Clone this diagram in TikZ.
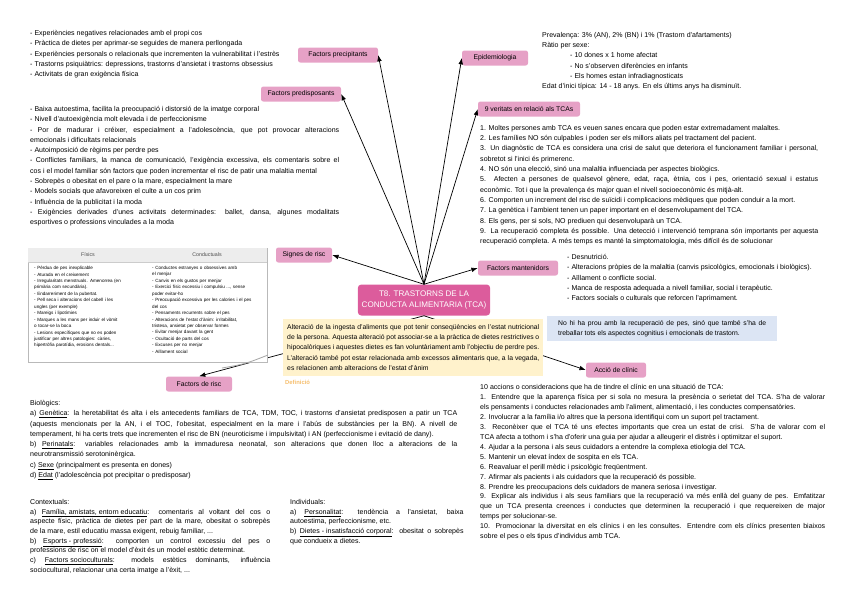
\documentclass[tikz,border=0pt]{standalone}
\usepackage{fontspec}
\setmainfont{Liberation Sans}
\usepackage{xcolor}
\usetikzlibrary{positioning,calc,arrows.meta}

\definecolor{branchpink}{HTML}{E6A1C6}
\definecolor{tcapink}{HTML}{DC5C9C}
\definecolor{defyellow}{HTML}{FFF2CC}
\definecolor{noteblue}{HTML}{DCE5F4}
\definecolor{deforange}{HTML}{F5BE6E}
\definecolor{headgray}{HTML}{EDEDED}

\newcommand{\bodyfont}{\fontsize{6}{8.8}\selectfont}
\newcommand{\boxfont}{\fontsize{5.8}{8.8}\selectfont}
\newcommand{\cellfont}{\fontsize{3.9}{5.5}\selectfont}

\begin{document}
\begin{tikzpicture}[
    x=0.03cm, y=-0.03cm,
    branch/.style={
        rectangle,
        fill=branchpink,
        rounded corners=2pt,
        minimum height=0.45cm,
        inner sep=1pt,
        font=\boxfont
    },
    central/.style={
        rectangle,
        fill=tcapink,
        text=white,
        rounded corners=3pt,
        minimum width=3.84cm,
        minimum height=0.93cm,
        align=center,
        font=\fontsize{6.9}{10}\selectfont
    },
    txt/.style={anchor=north west, inner sep=0pt, align=justify, font=\bodyfont},
    cell/.style={anchor=north west, inner sep=0pt, align=left, font=\cellfont},
    arrow/.style={-{Latex[length=1.9mm,width=1.4mm]}, line width=0.6pt}
]
\useasboundingbox (0,0) rectangle (848,602);

% central topic and branches
\node[central] (tca) at (424,300) {T8. TRASTORNS DE LA\\CONDUCTA ALIMENTARIA (TCA)};

\node[branch, minimum width=2.4cm] (precip) at (338,55) {Factors precipitants};
\node[branch, minimum width=1.98cm] (epid) at (495,58) {Epidemiologia};
\node[branch, minimum width=2.4cm] (predisp) at (301,94) {Factors predisposants};
\node[branch, minimum width=3.06cm] (veritats) at (529,109) {9 veritats en relació als TCAs};
\node[branch, minimum width=1.68cm] (signes) at (304,255) {Signes de risc};
\node[branch, minimum width=2.4cm] (manten) at (518,268) {Factors mantenidors};
\node[branch, minimum width=1.98cm] (risc) at (199,384) {Factors de risc};
\node[branch, minimum width=1.8cm] (clinic) at (616,370) {Acció de clínic};

\draw[arrow] (tca.north) -- (precip.east);
\draw[arrow] (tca.north) -- (epid.west);
\draw[arrow] (tca.north) -- (predisp.east);
\draw[arrow] (tca.north) -- (veritats.west);
\draw[arrow] (tca.north) -- (signes.east);
\draw[arrow] (tca.north) -- (manten.west);
\draw[arrow] (tca.south) -- (risc.north);
\draw[arrow] (tca.south) -- (clinic.west);

% definition
\node[txt, font=\boxfont, fill=defyellow, inner xsep=0.12cm, inner ysep=0.15cm, text width=7.56cm] (def) at (283,319)
  {Alteració de la ingesta d'aliments que pot tenir conseqüències en l'estat nutricional de la persona. Aquesta alteració pot associar-se a la pràctica de dietes restrictives o hipocalòriques i aquestes dietes es fan voluntàriament amb l'objectiu de perdre pes. L'alteració també pot estar relacionada amb excessos alimentaris que, a la vegada, es relacionen amb alteracions de l'estat d'ànim};
\node[anchor=north west, inner sep=0pt, text=deforange, font=\fontsize{5}{6}\selectfont\bfseries] (deflabel) at (285,380) {Definició};

\node[txt, font=\boxfont, fill=noteblue, inner xsep=0.33cm, inner ysep=0.12cm, text width=6.24cm] (note) at (547,316)
  {No hi ha prou amb la recuperació de pes, sinó que també s'ha de treballar tots els aspectes cognitius i emocionals de trastorn.};

% texts of the branches
\node[txt, align=left] (precipText) at (30,30)
  {- Experiències negatives relacionades amb el propi cos\\
   - Pràctica de dietes per aprimar-se seguides de manera perllongada\\
   - Experiències personals o relacionals que incrementen la vulnerabilitat i l'estrès\\
   - Trastorns psiquiàtrics: depressions, trastorns d'ansietat i trastorns obsessius\\
   - Activitats de gran exigència física};

\node[txt, align=left] (epidText) at (542,32)
  {Prevalença: 3\% (AN), 2\% (BN) i 1\% (Trastorn d'afartaments)\\
   Ràtio per sexe:\\
   \hspace*{0.84cm}- 10 dones x 1 home afectat\\
   \hspace*{0.84cm}- No s'observen diferències en infants\\
   \hspace*{0.84cm}- Els homes estan infradiagnosticats\\
   Edat d'inici típica: 14 - 18 anys. En els últims anys ha disminuït.};

\node[txt, text width=9.27cm] (predispText) at (30,106)
  {- Baixa autoestima, facilita la preocupació i distorsió de la imatge corporal\\
   - Nivell d'autoexigència molt elevada i de perfeccionisme\\
   - Por de madurar i créixer, especialment a l'adolescència, que pot provocar alteracions\linebreak emocionals i dificultats relacionals\\
   - Autoimposició de règims per perdre pes\\
   - Conflictes familiars, la manca de comunicació, l'exigència excessiva, els comentaris sobre el\linebreak cos i el model familiar són factors que poden incrementar el risc de patir una malaltia mental\\
   - Sobrepès o obesitat en el pare o la mare, especialment la mare\\
   - Models socials que afavoreixen el culte a un cos prim\\
   - Influència de la publicitat i la moda\\
   - Exigències derivades d'unes activitats determinades: ballet, dansa, algunes modalitats\linebreak esportives o professions vinculades a la moda};

\node[txt, text width=10.14cm] (veritatsText) at (480,125)
  {1. Moltes persones amb TCA es veuen sanes encara que poden estar extremadament malaltes.\\
   2. Les famílies NO són culpables i poden ser els millors aliats pel tractament del pacient.\\
   3. Un diagnòstic de TCA es considera una crisi de salut que deteriora el funcionament familiar i personal,\linebreak sobretot si l'inici és primerenc.\\
   4. NO són una elecció, sinó una malaltia influenciada per aspectes biològics.\\
   5. Afecten a persones de qualsevol gènere, edat, raça, ètnia, cos i pes, orientació sexual i estatus\linebreak econòmic. Tot i que la prevalença és major quan el nivell socioeconòmic és mitjà-alt.\\
   6. Comporten un increment del risc de suïcidi i complicacions mèdiques que poden conduir a la mort.\\
   7. La genètica i l'ambient tenen un paper important en el desenvolupament del TCA.\\
   8. Els gens, per si sols, NO prediuen qui desenvoluparà un TCA.\\
   9. La recuperació completa és possible. Una detecció i intervenció temprana són importants per aquesta\linebreak recuperació completa. A més temps es manté la simptomatologia, més difícil és de solucionar};

\node[txt, align=left] (mantenText) at (567,254)
  {- Desnutrició.\\
   - Alteracions pròpies de la malaltia (canvis psicològics, emocionals i biològics).\\
   - Aïllament o conflicte social.\\
   - Manca de resposta adequada a nivell familiar, social i terapèutic.\\
   - Factors socials o culturals que reforcen l'aprimament.};

% signs of risk table
\draw[gray!55, fill=white] (28,248) rectangle (267,362);
\fill[headgray] (28.4,248.4) rectangle (266.6,262);
\draw[gray!40] (28,262) -- (267,262);
\draw[gray!70, line width=0.7pt] (222,368) .. controls (245,364) .. (268,355);
\node[font=\fontsize{4.5}{5}\selectfont, text=black!70] (fisics) at (88,255) {Físics};
\node[font=\fontsize{4.5}{5}\selectfont, text=black!70] (conductuals) at (207,255) {Conductuals};
\node[cell, text width=3.3cm] (fisicsText) at (34,266)
  {- Pèrdua de pes inexplicable\\
   - Aturada en el creixement\\
   - Irregularitats menstruals. Amenorrea (en\\
   primària com secundària).\\
   - Endarreriment de la pubertat.\\
   - Pell seca i alteracions del cabell i les\\
   ungles (per exemple)\\
   - Mareigs i lipotímies\\
   - Marques a les mans per induir el vòmit\\
   o tocar-se la boca\\
   - Lesions específiques que no es poden\\
   justificar per altres patologies: càries,\\
   hipertròfia parotídia, erosions dentals...};
\node[cell, text width=3.4cm] (conductualsText) at (152,266)
  {- Conductes estranyes o obsessives amb\\
   el menjar\\
   - Canvis en els gustos per menjar\\
   - Exercici físic excessiu i compulsiu ..., sense\\
   poder evitar-ho\\
   - Preocupació excessiva per les calories i el pes\\
   del cos\\
   - Pensaments recurrents sobre el pes\\
   - Alteracions de l'estat d'ànim: irritabilitat,\\
   tristesa, ansietat per observar formes\\
   - Evitar menjar davant la gent\\
   - Ocultació de parts del cos\\
   - Excuses per no menjar\\
   - Aïllament social};

% risk factors
\node[txt, text width=12.81cm] (biolText) at (30,400)
  {Biològics:\\
   a) \underline{Genètica}: la heretabilitat és alta i els antecedents familiars de TCA, TDM, TOC, i trastorns d'ansietat predisposen a patir un TCA\linebreak (aquests mencionats per la AN, i el TOC, l'obesitat, especialment en la mare i l'abús de substàncies per la BN). A nivell de\linebreak temperament, hi ha certs trets que incrementen el risc de BN (neuroticisme i impulsivitat) i AN (perfeccionisme i evitació de dany).\\
   b) \underline{Perinatals}: variables relacionades amb la immaduresa neonatal, son alteracions que donen lloc a alteracions de la\linebreak neurotransmissió serotoninèrgica.\\
   c) \underline{Sexe} (principalment es presenta en dones)\\
   d) \underline{Edat} (l'adolescència pot precipitar o predisposar)};

\node[txt, text width=7.2cm, font=\fontsize{6}{8.3}\selectfont] (contextText) at (30,499)
  {Contextuals:\\
   a) \underline{Família, amistats, entorn educatiu}: comentaris al voltant del cos o\linebreak aspecte físic, pràctica de dietes per part de la mare, obesitat o sobrepès\linebreak de la mare, estil educatiu massa exigent, rebuig familiar, ...\\
   b) \underline{Esports - professió}: comporten un control excessiu del pes o\linebreak professions de risc on el model d'èxit és un model estètic determinat.\\
   c) \underline{Factors socioculturals}: models estètics dominants, influència\linebreak sociocultural, relacionar una certa imatge a l'èxit, ...};

\node[txt, text width=5.2cm, font=\fontsize{6}{8.3}\selectfont] (indivText) at (290,499)
  {Individuals:\\
   a) \underline{Personalitat}: tendència a l'ansietat, baixa\linebreak autoestima, perfeccionisme, etc.\\
   b) \underline{Dietes - insatisfacció corporal}: obesitat o sobrepès\linebreak que condueix a dietes.};

% clinical action
\node[txt, text width=10.35cm, font=\fontsize{6}{8.5}\selectfont] (clinicText) at (480,384)
  {10 accions o consideracions que ha de tindre el clínic en una situació de TCA:\\
   1. Entendre que la aparença física per si sola no mesura la presència o serietat del TCA. S'ha de valorar\linebreak els pensaments i conductes relacionades amb l'aliment, alimentació, i les conductes compensatòries.\\
   2. Involucrar a la família i/o altres que la persona identifiqui com un suport pel tractament.\\
   3. Reconèixer que el TCA té uns efectes importants que crea un estat de crisi. S'ha de valorar com el\linebreak TCA afecta a tothom i s'ha d'oferir una guia per ajudar a alleugerir el distrès i optimitzar el suport.\\
   4. Ajudar a la persona i als seus cuidadors a entendre la complexa etiologia del TCA.\\
   5. Mantenir un elevat índex de sospita en els TCA.\\
   6. Reavaluar el perill mèdic i psicològic freqüentment.\\
   7. Afirmar als pacients i als cuidadors que la recuperació és possible.\\
   8. Prendre les preocupacions dels cuidadors de manera seriosa i investigar.\\
   9. Explicar als individus i als seus familiars que la recuperació va més enllà del guany de pes. Emfatitzar\linebreak que un TCA presenta creences i conductes que determinen la recuperació i que requereixen de major\linebreak temps per solucionar-se.\\
   10. Promocionar la diversitat en els clínics i en les consultes. Entendre com els clínics presenten biaixos\linebreak sobre el pes o els tipus d'individus amb TCA.};

\end{tikzpicture}
\end{document}
